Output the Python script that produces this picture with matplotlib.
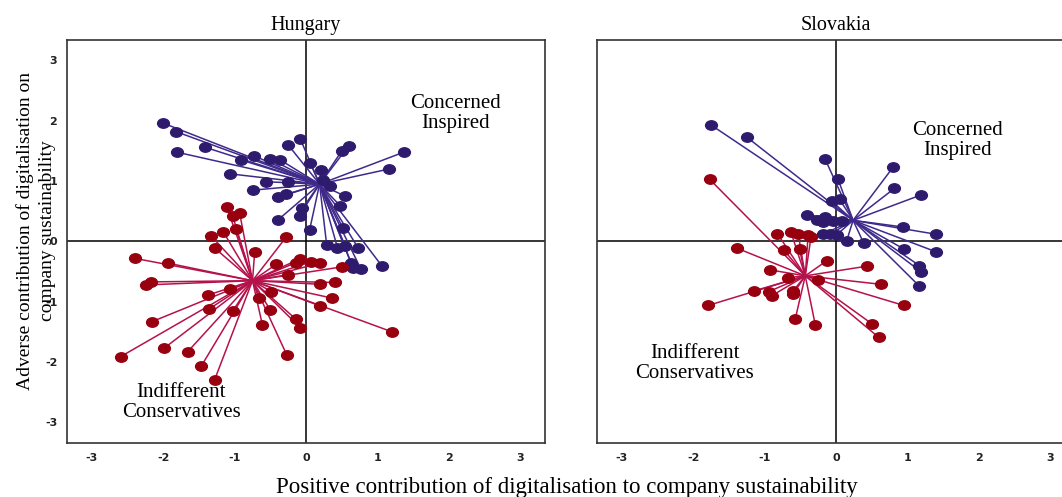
import matplotlib.pyplot as plt
from matplotlib.markers import MarkerStyle
from matplotlib.transforms import Affine2D

plt.rcParams['axes.unicode_minus'] = False

# cluster centroids (x = positive contribution, y = adverse contribution)
hu_blue_centre = (0.19, 0.95)
hu_red_centre = (-0.75, -0.65)
sk_blue_centre = (0.24, 0.35)
sk_red_centre = (-0.43, -0.57)

# Hungary - Concerned Inspired
hu_blue_x = [-2.00, -1.82, -1.81, -1.41, -0.91, -0.73, -0.51, -0.36, -1.06, -0.56,
             -0.75, -0.39, -0.28, -0.39, -0.09, -0.05, -0.25, -0.08, 0.06, 0.21,
             0.50, 0.60, 1.37, 1.16, 0.55, 0.48, 0.05, 0.29, 0.44, 0.55,
             0.52, 0.73, 1.06, 0.63, 0.77, 0.66, 0.34, -0.25, 0.24]
hu_blue_y = [1.96, 1.82, 1.48, 1.56, 1.35, 1.42, 1.37, 1.35, 1.12, 0.99,
             0.85, 0.73, 0.78, 0.36, 0.43, 0.55, 1.60, 1.70, 1.30, 1.19,
             1.50, 1.59, 1.48, 1.20, 0.75, 0.59, 0.19, -0.06, -0.10, -0.08,
             0.22, -0.11, -0.40, -0.35, -0.46, -0.44, 0.92, 0.99, 1.02]

# Hungary - Indifferent Conservatives
hu_red_x = [-1.11, -1.03, -0.93, -1.33, -1.16, -0.98, -1.28, -0.28, -0.72, -2.40,
            -1.93, -2.24, -2.17, -0.09, -0.14, 0.07, 0.19, -0.42, 0.51, 0.20,
            0.41, 0.37, 0.20, 1.21, -1.06, -1.38, -0.49, -0.66, -2.16, -1.36,
            -1.03, -0.50, -0.14, -0.08, -0.61, -2.60, -1.99, -1.66, -1.47, -1.28,
            -0.27, -0.25]
hu_red_y = [0.57, 0.43, 0.47, 0.09, 0.16, 0.20, -0.11, 0.07, -0.18, -0.28,
            -0.36, -0.72, -0.67, -0.29, -0.35, -0.34, -0.36, -0.38, -0.42, -0.71,
            -0.68, -0.94, -1.07, -1.50, -0.79, -0.89, -0.83, -0.94, -1.33, -1.12,
            -1.16, -1.14, -1.29, -1.43, -1.39, -1.91, -1.77, -1.83, -2.07, -2.29,
            -1.88, -0.55]

# Slovakia - Concerned Inspired
sk_blue_x = [-1.75, -1.25, -0.15, 0.03, 0.80, 0.82, 1.19, 0.94, 1.40, 1.40,
             0.96, 1.17, 1.19, 1.16, 0.39, -0.41, -0.27, -0.15, -0.06, 0.05,
             -0.18, -0.08, 0.01, 0.15, 0.08, -0.04, -0.18]
sk_blue_y = [1.93, 1.73, 1.36, 1.03, 1.23, 0.88, 0.77, 0.24, 0.12, -0.17,
             -0.13, -0.40, -0.50, -0.73, -0.03, 0.44, 0.36, 0.40, 0.67, 0.70,
             0.12, 0.12, 0.11, 0.01, 0.34, 0.34, 0.33]

# Slovakia - Indifferent Conservatives
sk_red_x = [-1.77, -1.39, -0.82, -0.63, -0.53, -0.39, -0.35, -0.73, -0.51, -0.13,
            -0.93, -0.67, -0.25, 0.43, 0.63, 0.95, -1.15, -0.94, -0.90, -0.60,
            -0.60, -1.79, -0.57, -0.29, 0.51, 0.60]
sk_red_y = [1.03, -0.11, 0.13, 0.15, 0.13, 0.11, 0.07, -0.14, -0.13, -0.32,
            -0.47, -0.60, -0.64, -0.41, -0.71, -1.06, -0.82, -0.83, -0.90, -0.87,
            -0.82, -1.06, -1.28, -1.38, -1.37, -1.59]

ticks = [-3, -2, -1, 0, 1, 2, 3]

blue_dot, blue_line = '#2f1b6e', '#3f2a8c'
red_dot, red_line = '#98000f', '#b5124c'

serif = 'Liberation Serif'
oval = MarkerStyle('o', transform=Affine2D().scale(1.25, 1.0))


def star(ax, centre, xs, ys, dot, line):
    cx, cy = centre
    for x, y in zip(xs, ys):
        ax.plot([cx, x], [cy, y], color=line, lw=1.1, zorder=2)
    ax.plot(xs, ys, ls='none', marker=oval, ms=6.8, color=dot, zorder=3)


def setup(ax, title):
    ax.set_xlim(-3.35, 3.35)
    ax.set_ylim(-3.34, 3.34)
    ax.axhline(0, color='black', lw=1.1, zorder=1)
    ax.axvline(0, color='black', lw=1.1, zorder=1)
    ax.set_xticks(ticks)
    ax.set_yticks(ticks)
    ax.tick_params(length=0, pad=7, labelsize=8)
    for lab in ax.get_xticklabels() + ax.get_yticklabels():
        lab.set_fontweight('bold')
        lab.set_color('#222222')
    for sp in ax.spines.values():
        sp.set_color('#333333')
        sp.set_linewidth(1.2)
    ax.text(0, 3.58, title, ha='center', va='center', fontsize=14.5,
            family=serif)


fig = plt.figure(figsize=(10.62, 4.97), dpi=100)
ax1 = fig.add_axes([0.0631, 0.1087, 0.4501, 0.8109])
ax2 = fig.add_axes([0.5621, 0.1087, 0.4501, 0.8109])

setup(ax1, 'Hungary')
setup(ax2, 'Slovakia')
ax2.tick_params(labelleft=False)

star(ax1, hu_blue_centre, hu_blue_x, hu_blue_y, blue_dot, blue_line)
star(ax1, hu_red_centre, hu_red_x, hu_red_y, red_dot, red_line)
star(ax2, sk_blue_centre, sk_blue_x, sk_blue_y, blue_dot, blue_line)
star(ax2, sk_red_centre, sk_red_x, sk_red_y, red_dot, red_line)

groups = [(ax1, 2.1, 2.12, 'Concerned\nInspired'),
          (ax1, -1.75, -2.67, 'Indifferent\nConservatives'),
          (ax2, 1.70, 1.67, 'Concerned\nInspired'),
          (ax2, -1.98, -2.02, 'Indifferent\nConservatives')]
for ax, gx, gy, name in groups:
    ax.text(gx, gy, name, ha='center', va='center', fontsize=15,
            family=serif, linespacing=1.05)

fig.text(0.534, 0.02, 'Positive contribution of digitalisation to company sustainability',
         ha='center', va='center', fontsize=16.5, family=serif)
fig.text(0.034, 0.535, 'Adverse contribution of digitalisation on\ncompany sustainability',
         ha='center', va='center', rotation=90, fontsize=14, family=serif,
         linespacing=1.4)

fig.savefig('out.png', dpi=100)
